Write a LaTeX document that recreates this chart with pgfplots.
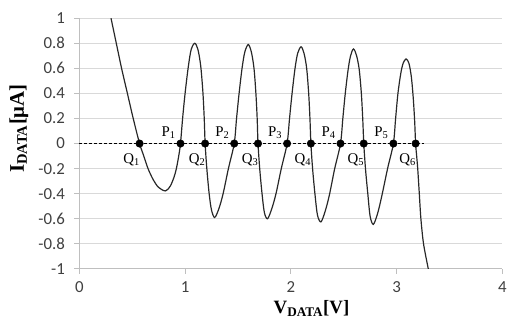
\documentclass[border=0pt]{standalone}
\usepackage{fontspec}
\setmainfont{Liberation Serif}
\newfontfamily\carlito{Carlito}
\usepackage{pgfplots}
\pgfplotsset{compat=1.18}
\definecolor{gridc}{RGB}{217,217,217}
\definecolor{axc}{RGB}{191,191,191}
\definecolor{tickc}{RGB}{64,64,64}
\definecolor{curvec}{RGB}{40,40,40}
\tikzset{qlab/.style={font=\fontsize{15}{15}\selectfont, xshift=-8bp, yshift=-16bp},
         plab/.style={font=\fontsize{15}{15}\selectfont, xshift=-12bp, yshift=11bp}}
\begin{document}
\begin{tikzpicture}
\begin{axis}[
  name=ax,
  scale only axis,
  width=425.3bp, height=252bp,
  xmin=0, xmax=4, ymin=-1, ymax=1,
  xtick={0,1,2,3,4}, xticklabels={0,1,2,3,4},
  ytick={-1,-0.8,-0.6,-0.4,-0.2,0,0.2,0.4,0.6,0.8,1},
  yticklabels={-1,-0.8,-0.6,-0.4,-0.2,0,0.2,0.4,0.6,0.8,1},
  axis x line*=bottom, axis y line*=left,
  axis line style={axc, line width=1bp, -},
  tick align=outside, major tick length=5bp,
  tick style={axc, line width=1bp},
  ymajorgrids, grid style={gridc, line width=1.2bp},
  ticklabel style={font=\carlito\fontsize{17}{17}\selectfont, text=tickc},
  yticklabel style={xshift=-6bp},
  xticklabel style={yshift=-4bp},
  xlabel={\textbf{V\textsubscript{DATA}[V]}},
  ylabel={\textbf{I\textsubscript{DATA}[μA]}},
  xlabel style={font=\fontsize{19}{19}\selectfont, at={(axis description cs:0.549,0)}, anchor=base, yshift=-45bp},
  ylabel style={font=\fontsize{21}{21}\selectfont, at={(axis description cs:-0.131,0.56)}, anchor=base},
  clip=false,
]
\addplot[curvec, line width=1.2bp, smooth, tension=0.5] coordinates {
(0.30,1.0)(0.35,0.8)(0.40,0.6)(0.455,0.4)(0.51,0.2)(0.57,0)(0.61,-0.1)(0.65,-0.2)(0.70,-0.29)(0.75,-0.35)(0.815,-0.378)(0.86,-0.34)(0.895,-0.27)(0.918,-0.2)(0.94,-0.1)(0.957,0)
(0.978,0.21)(1.003,0.42)(1.032,0.62)(1.058,0.75)(1.092,0.80)(1.122,0.75)(1.148,0.62)(1.168,0.42)(1.181,0.21)(1.19,0)
(1.206,-0.2)(1.228,-0.4)(1.25,-0.53)(1.28,-0.59)(1.32,-0.52)(1.36,-0.40)(1.41,-0.2)(1.465,0)
(1.487,0.2)(1.511,0.4)(1.539,0.6)(1.565,0.73)(1.598,0.79)(1.627,0.73)(1.652,0.6)(1.670,0.4)(1.682,0.2)(1.69,0)
(1.706,-0.2)(1.728,-0.4)(1.75,-0.55)(1.78,-0.60)(1.82,-0.52)(1.86,-0.40)(1.91,-0.2)(1.965,0)
(1.988,0.2)(2.012,0.4)(2.04,0.6)(2.065,0.72)(2.097,0.772)(2.125,0.72)(2.15,0.6)(2.169,0.4)(2.181,0.2)(2.19,0)
(2.206,-0.2)(2.228,-0.4)(2.252,-0.57)(2.285,-0.625)(2.325,-0.54)(2.365,-0.41)(2.415,-0.2)(2.47,0)
(2.492,0.2)(2.515,0.4)(2.542,0.59)(2.565,0.70)(2.593,0.755)(2.622,0.70)(2.647,0.59)(2.667,0.4)(2.680,0.2)(2.69,0)
(2.706,-0.2)(2.728,-0.4)(2.75,-0.58)(2.78,-0.645)(2.82,-0.56)(2.86,-0.42)(2.915,-0.2)(2.97,0)
(2.991,0.2)(3.013,0.4)(3.04,0.56)(3.062,0.64)(3.09,0.675)(3.117,0.64)(3.14,0.53)(3.158,0.36)(3.171,0.18)(3.18,0)
(3.19,-0.1)(3.20,-0.2)(3.215,-0.4)(3.23,-0.6)(3.255,-0.8)(3.30,-1.0)
};
\addplot[black, line width=1bp, dash pattern=on 3bp off 2bp] coordinates {(0,0)(3.26,0)};
\addplot[only marks, mark=*, mark size=3.8bp, black] coordinates {
(0.57,0)(0.957,0)(1.19,0)(1.465,0)(1.69,0)(1.965,0)(2.19,0)(2.47,0)(2.69,0)(2.97,0)(3.18,0)};
\node[qlab] at (axis cs:0.57,0) {Q\textsubscript{1}};
\node[qlab] at (axis cs:1.19,0) {Q\textsubscript{2}};
\node[qlab] at (axis cs:1.69,0) {Q\textsubscript{3}};
\node[qlab] at (axis cs:2.19,0) {Q\textsubscript{4}};
\node[qlab] at (axis cs:2.69,0) {Q\textsubscript{5}};
\node[qlab] at (axis cs:3.18,0) {Q\textsubscript{6}};
\node[plab] at (axis cs:0.957,0) {P\textsubscript{1}};
\node[plab] at (axis cs:1.465,0) {P\textsubscript{2}};
\node[plab] at (axis cs:1.965,0) {P\textsubscript{3}};
\node[plab] at (axis cs:2.47,0) {P\textsubscript{4}};
\node[plab] at (axis cs:2.97,0) {P\textsubscript{5}};
\end{axis}
\pgfresetboundingbox
\path[use as bounding box] (-79.7bp,-53bp) rectangle (431bp,270.3bp);
\end{tikzpicture}
\end{document}
